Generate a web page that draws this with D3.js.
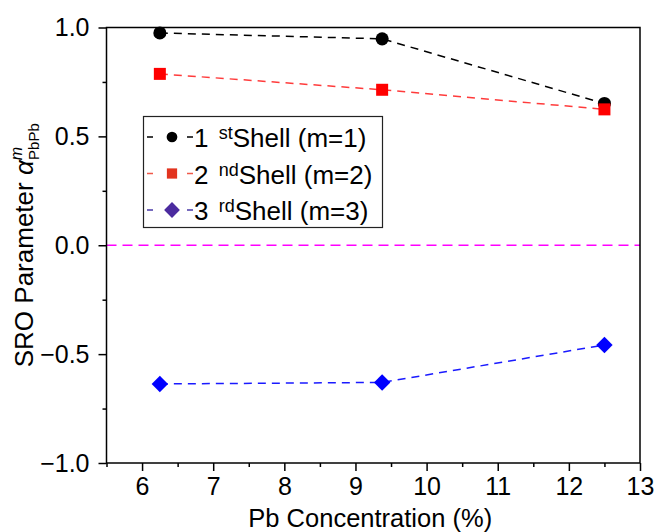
<!DOCTYPE html>
<html>
<head>
<meta charset="utf-8">
<script src="https://cdn.jsdelivr.net/npm/d3@7"></script>
<style>
  html, body { margin: 0; padding: 0; background: #fff; }
  svg { display: block; font-family: "Liberation Sans", Arial, sans-serif; }
</style>
</head>
<body>
<svg id="chart" width="656" height="532"></svg>
<script>
//  data
const concentrations = [6.25, 9.375, 12.5];
const shell1 = [0.975, 0.948, 0.651];
const shell2 = [0.787, 0.714, 0.624];
const shell3 = [-0.637, -0.630, -0.458];

const xTicks = [6, 7, 8, 9, 10, 11, 12, 13];
const yTicks = [-1.0, -0.5, 0.0, 0.5, 1.0];
const xMinorTicks = [5.5, 6.5, 7.5, 8.5, 9.5, 10.5, 11.5, 12.5];
const yMinorTicks = [-0.75, -0.25, 0.25, 0.75];

const legendOrdinals = ["1", "2", "3"];
const legendSups = ["st", "nd", "rd"];
const legendTails = ["Shell (m=1)", "Shell (m=2)", "Shell (m=3)"];

//  square turned 45 degrees, as the reference draws it
const squareDiamond = {
  draw(ctx, size) {
    const r = Math.sqrt(size / 2);
    ctx.moveTo(0, -r);
    ctx.lineTo(r, 0);
    ctx.lineTo(0, r);
    ctx.lineTo(-r, 0);
    ctx.closePath();
  }
};

function draw_SRO() {
  const frame = ({left: 106.5, right: 640, top: 27.5, bottom: 463});
  const svg = d3.select("#chart");

  const x = d3.scaleLinear().domain([5.5, 13]).range([frame.left, frame.right]);
  const y = d3.scaleLinear().domain([-1, 1]).range([frame.bottom, frame.top]);

  svg.selectAll('*').remove();

  //  axes
  const xAxis = g => g
    .attr("transform", `translate(0,${frame.bottom})`)
    .call(d3.axisBottom(x).tickValues(xTicks).tickSize(8).tickPadding(6).tickFormat(d3.format("d")));
  const xMinor = g => g
    .attr("transform", `translate(0,${frame.bottom})`)
    .call(d3.axisBottom(x).tickValues(xMinorTicks).tickSize(4).tickFormat(""));
  const yAxis = g => g
    .attr("transform", `translate(${frame.left},0)`)
    .call(d3.axisLeft(y).tickValues(yTicks).tickSize(8).tickPadding(9).tickFormat(d3.format(".1f")));
  const yMinor = g => g
    .attr("transform", `translate(${frame.left},0)`)
    .call(d3.axisLeft(y).tickValues(yMinorTicks).tickSize(4).tickFormat(""));

  [xAxis, xMinor, yAxis, yMinor].forEach(a => {
    const g = svg.append("g")
      .style("font-size", "25px")
      .style("font-family", "Liberation Sans, Arial, sans-serif")
      .call(a);
    g.select(".domain").remove();
    g.selectAll(".tick line").attr("stroke", "#000").attr("stroke-width", 1.5);
    g.selectAll(".tick text").attr("fill", "#000");
  });

  //  zero line
  svg.append("line")
    .attr("x1", frame.left).attr("x2", frame.right)
    .attr("y1", y(0)).attr("y2", y(0))
    .attr("stroke", "#ff00ff")
    .attr("stroke-width", 1.6)
    .attr("stroke-dasharray", "10,6");

  //  series
  const series = [
    {vals: shell1, line: "#000000", fill: "#000000", shape: d3.symbolCircle, size: 135},
    {vals: shell2, line: "#ff3b3b", fill: "#ff0000", shape: d3.symbolSquare, size: 144},
    {vals: shell3, line: "#1a1aff", fill: "#0000ff", shape: squareDiamond, size: 135}
  ];

  const line = d3.line().x(d => x(d[0])).y(d => y(d[1]));

  series.forEach(s => {
    const pts = concentrations.map((c, i) => [c, s.vals[i]]);
    svg.append("path")
      .attr("d", line(pts))
      .attr("fill", "none")
      .attr("stroke", s.line)
      .attr("stroke-width", 1.5)
      .attr("stroke-dasharray", "8,6");
    pts.forEach(p => {
      svg.append("path")
        .attr("d", d3.symbol().type(s.shape).size(s.size)())
        .attr("transform", `translate(${x(p[0])},${y(p[1])})`)
        .attr("fill", s.fill);
    });
  });

  //  frame
  svg.append("rect")
    .attr("x", frame.left).attr("y", frame.top)
    .attr("width", frame.right - frame.left)
    .attr("height", frame.bottom - frame.top)
    .attr("fill", "none")
    .attr("stroke", "#000")
    .attr("stroke-width", 1.5);

  //  legend
  const legendColors = [
    {line: "#000000", fill: "#000000", shape: d3.symbolCircle, size: 90},
    {line: "#f05a4a", fill: "#e2341f", shape: d3.symbolSquare, size: 105},
    {line: "#4a3aa8", fill: "#4b2b9f", shape: squareDiamond, size: 125}
  ];
  const lg = svg.append("g");
  lg.append("rect")
    .attr("x", 143.5).attr("y", 116.5)
    .attr("width", 239).attr("height", 111)
    .attr("fill", "#fff")
    .attr("stroke", "#222")
    .attr("stroke-width", 1.2);

  legendColors.forEach((c, i) => {
    const cy = 137 + i * 36.5;
    lg.append("line")
      .attr("x1", 147).attr("x2", 193)
      .attr("y1", cy).attr("y2", cy)
      .attr("stroke", c.line)
      .attr("stroke-width", 1.5)
      .attr("stroke-dasharray", "6,34,6");
    lg.append("path")
      .attr("d", d3.symbol().type(c.shape).size(c.size)())
      .attr("transform", `translate(172,${cy})`)
      .attr("fill", c.fill);
    const t = lg.append("text")
      .attr("x", 194).attr("y", cy + 10)
      .style("font-size", "26px")
      .attr("fill", "#000");
    t.append("tspan").text(legendOrdinals[i] + " ");
    t.append("tspan").attr("dx", 3).attr("dy", -8).style("font-size", "18px").text(legendSups[i]);
    t.append("tspan").attr("dy", 8).text(legendTails[i]);
  });

  //  axis titles
  svg.append("text")
    .attr("x", (frame.left + frame.right) / 2 - 3)
    .attr("y", 527)
    .attr("text-anchor", "middle")
    .style("font-size", "25.5px")
    .text("Pb Concentration (%)");

  const yl = svg.append("text")
    .attr("transform", `translate(33,${y(0)}) rotate(-90)`)
    .attr("text-anchor", "middle")
    .style("font-size", "26px");
  yl.append("tspan").text("SRO Parameter ");
  yl.append("tspan").style("font-style", "italic").text("α");
  yl.append("tspan").attr("dy", -11).style("font-style", "italic").style("font-size", "16px").text("m");
  yl.append("tspan").attr("dx", -13).attr("dy", 17).style("font-size", "15px").text("PbPb");
}

draw_SRO();
</script>
</body>
</html>
